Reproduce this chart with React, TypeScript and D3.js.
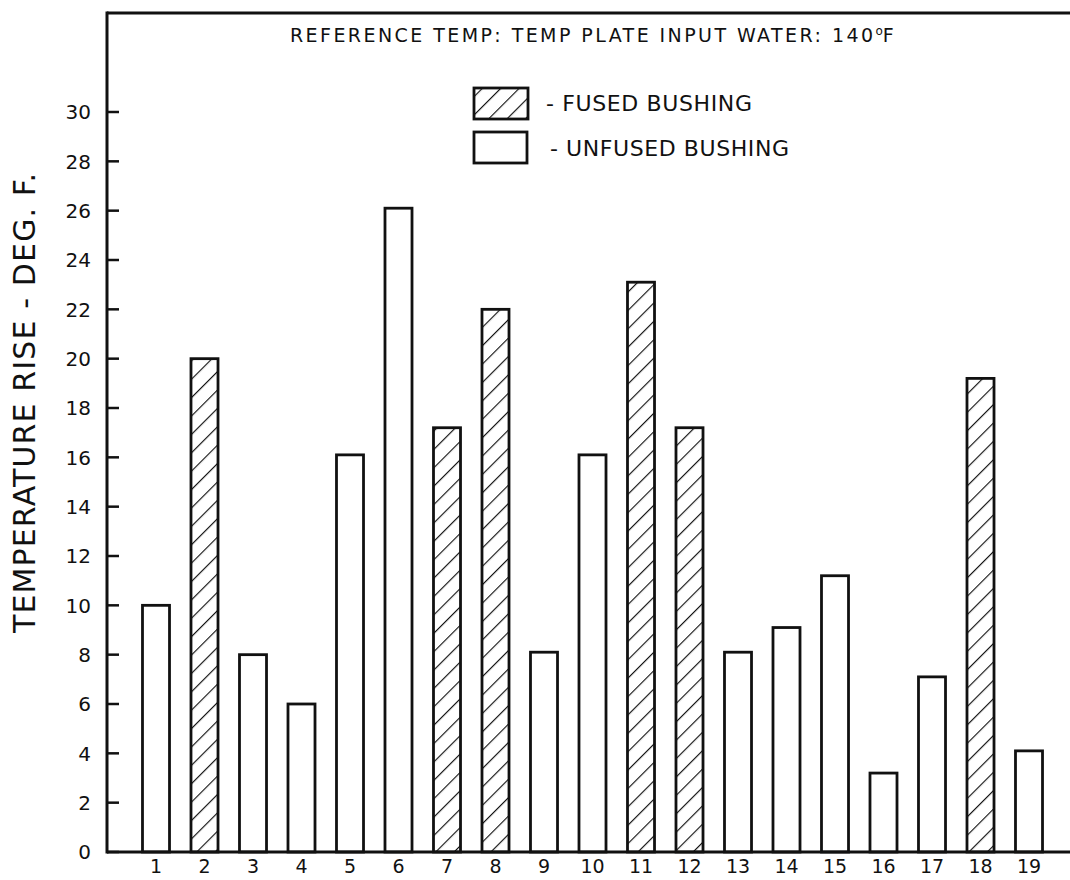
import React from "react";
import * as d3 from "d3";

const categories = ["1","2","3","4","5","6","7","8","9","10","11","12","13","14","15","16","17","18","19"];
const values = [10, 20, 8, 6, 16.1, 26.1, 17.2, 22, 8.1, 16.1, 23.1, 17.2, 8.1, 9.1, 11.2, 3.2, 7.1, 19.2, 4.1];
const fused = [false, true, false, false, false, false, true, true, false, false, true, true, false, false, false, false, false, true, false];
const yTicks = [0, 2, 4, 6, 8, 10, 12, 14, 16, 18, 20, 22, 24, 26, 28, 30];
const titleText = "REFERENCE TEMP: TEMP PLATE INPUT WATER: 140";
const legendFused = "- FUSED BUSHING";
const legendUnfused = "- UNFUSED BUSHING";
const yLabel = "TEMPERATURE RISE - DEG. F.";

const W = 1070, H = 880;
const axisX = 107, axisY = 852, topY = 13;
const font = "'DejaVu Sans', 'Liberation Sans', sans-serif";

export default function App() {
  const y = d3.scaleLinear().domain([0, 30]).range([axisY, 112]);
  const pi = 0.443;
  const x = d3.scaleBand<string>().domain(categories).range([131.75, 1053.25]).paddingInner(pi).paddingOuter(pi / 2);
  const bw = x.bandwidth();

  return (
    <div style={{ position: "absolute", left: 0, top: 0 }}>
      <svg width={W} height={H} style={{ display: "block", background: "#fff" }}>
        <defs>
          <pattern id="hatch" patternUnits="userSpaceOnUse" width={13} height={13} patternTransform="rotate(45)">
            <line x1={0} y1={0} x2={0} y2={13} stroke="#111" strokeWidth={2.3} />
          </pattern>
        </defs>
        <rect x={0} y={0} width={W} height={H} fill="#fff" />
        {/* frame */}
        <line x1={axisX} y1={topY} x2={W} y2={topY} stroke="#111" strokeWidth={3} />
        <line x1={axisX} y1={topY - 1.5} x2={axisX} y2={axisY + 1.5} stroke="#111" strokeWidth={3} />
        {/* y ticks */}
        {yTicks.map((t) => (
          <g key={t}>
            <line x1={axisX} x2={axisX + 12} y1={y(t)} y2={y(t)} stroke="#111" strokeWidth={2.5} />
            <text x={91} y={y(t)} dy="0.36em" textAnchor="end" fontFamily={font} fontSize={20} fill="#111">{t}</text>
          </g>
        ))}
        {/* bars */}
        {values.map((v, i) => (
          <rect key={i} x={x(categories[i])!} y={y(v)} width={bw} height={axisY - y(v)}
            fill={fused[i] ? "url(#hatch)" : "#fff"} stroke="#111" strokeWidth={2.8} />
        ))}
        <line x1={axisX} y1={axisY} x2={W} y2={axisY} stroke="#111" strokeWidth={3} />
        {/* x labels */}
        {categories.map((c) => (
          <text key={c} x={x(c)! + bw / 2} y={873} textAnchor="middle" fontFamily={font} fontSize={19} fill="#111">{c}</text>
        ))}
        {/* title */}
        <text x={290} y={42} fontFamily={font} fontSize={19} fill="#111">
          <tspan textLength={583} lengthAdjust="spacing">{titleText}</tspan>
          <tspan fontSize={12} dy={-7}>o</tspan>
          <tspan dy={7}>F</tspan>
        </text>
        {/* legend */}
        <rect x={474} y={88} width={54} height={31} fill="url(#hatch)" stroke="#111" strokeWidth={2.8} />
        <rect x={474} y={132} width={53} height={31} fill="#fff" stroke="#111" strokeWidth={2.8} />
        <text x={546} y={111} fontFamily={font} fontSize={22} fill="#111" textLength={206} lengthAdjust="spacing">{legendFused}</text>
        <text x={550} y={156} fontFamily={font} fontSize={22} fill="#111" textLength={239} lengthAdjust="spacing">{legendUnfused}</text>
        {/* y label */}
        <text transform="translate(35,633) rotate(-90)" textAnchor="start" fontFamily={font} fontSize={30} fill="#111" textLength={460} lengthAdjust="spacing">{yLabel}</text>
      </svg>
    </div>
  );
}
